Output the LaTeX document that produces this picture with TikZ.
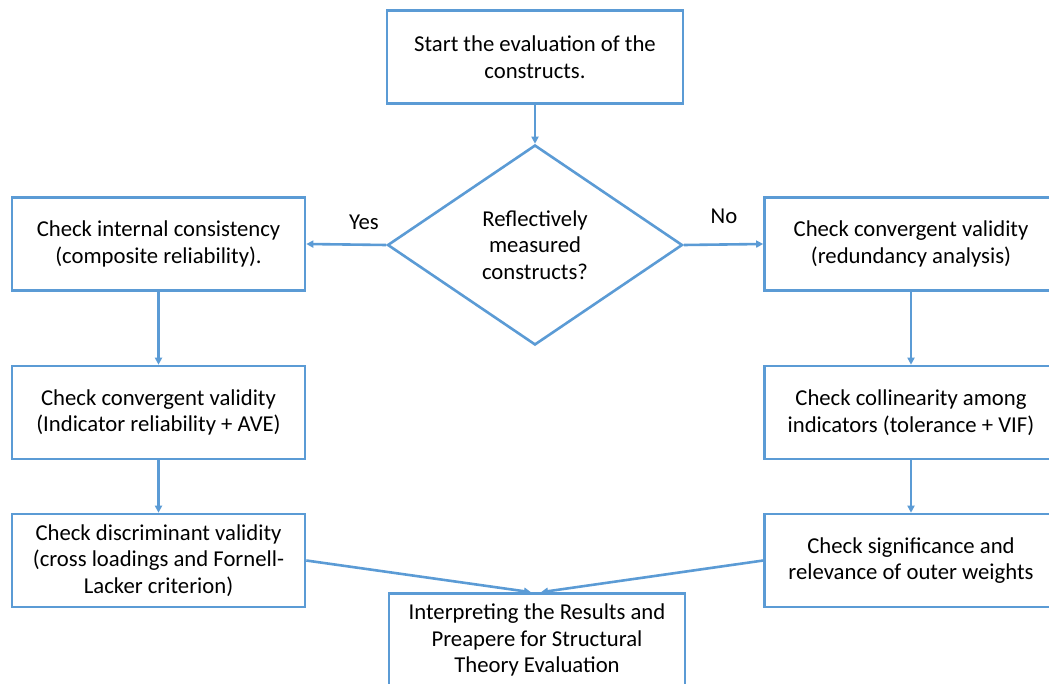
\documentclass[tikz,border=0pt]{standalone}
\usepackage{fontspec}
\setmainfont{Carlito}
\usetikzlibrary{shapes.geometric,arrows.meta}
\definecolor{flowblue}{RGB}{91,155,213}
\tikzset{
  box/.style={draw=flowblue,line width=2.6pt,fill=white,minimum width=293pt,minimum height=93pt,align=center,inner sep=2pt},
  decision/.style={draw=flowblue,line width=2.6pt,fill=white,shape=diamond,minimum width=295pt,minimum height=200pt,aspect=1.475,inner sep=0pt,align=center},
  link/.style={draw=flowblue,line width=2.6pt,-{Triangle[length=7pt,width=7pt]}},
  answer/.style={inner sep=0pt}
}
\begin{document}
\begin{tikzpicture}[x=1pt,y=-1pt,font=\fontsize{22.7}{26.5}\selectfont]
 \useasboundingbox (0,0) rectangle (1049,684);
 \node[box,minimum width=296pt] (start) at (535,57) {Start the evaluation of the\\constructs.};
 \node[decision] (dec) at (535,245) {Reflectively\\measured\\constructs?};
 % left branch
 \node[box] (chkIC) at (158.5,244) {Check internal consistency\\(composite reliability).};
 \node[box] (chkCVl) at (158.5,412.5) {Check convergent validity\\(Indicator reliability + AVE)};
 \node[box] (chkDV) at (158.5,560.5) {Check discriminant validity\\(cross loadings and Fornell-\\Lacker criterion)};
 % right branch
 \node[box] (chkCVr) at (911,244) {Check convergent validity\\(redundancy analysis)};
 \node[box] (chkCol) at (911,412.5) {Check collinearity among\\indicators (tolerance + VIF)};
 \node[box] (chkSig) at (911,560.5) {Check significance and\\relevance of outer weights};
 \node[box,minimum width=296pt] (final) at (537,640) {Interpreting the Results and\\Preapere for Structural\\Theory Evaluation};
 \node[answer] (yes) at (364,222) {Yes};
 \node[answer] (no) at (724,216) {No};
 \draw[link] (start.south) -- (dec.north);
 \draw[link] (dec.west) -- (chkIC.east);
 \draw[link] (dec.east) -- (chkCVr.west);
 \draw[link] (chkIC) -- (chkCVl);
 \draw[link] (chkCVl) -- (chkDV);
 \draw[link] (chkCVr) -- (chkCol);
 \draw[link] (chkCol) -- (chkSig);
 \draw[link] (chkDV.east) -- ([xshift=-6pt]final.north);
 \draw[link] (chkSig.west) -- ([xshift=4pt]final.north);
\end{tikzpicture}
\end{document}
